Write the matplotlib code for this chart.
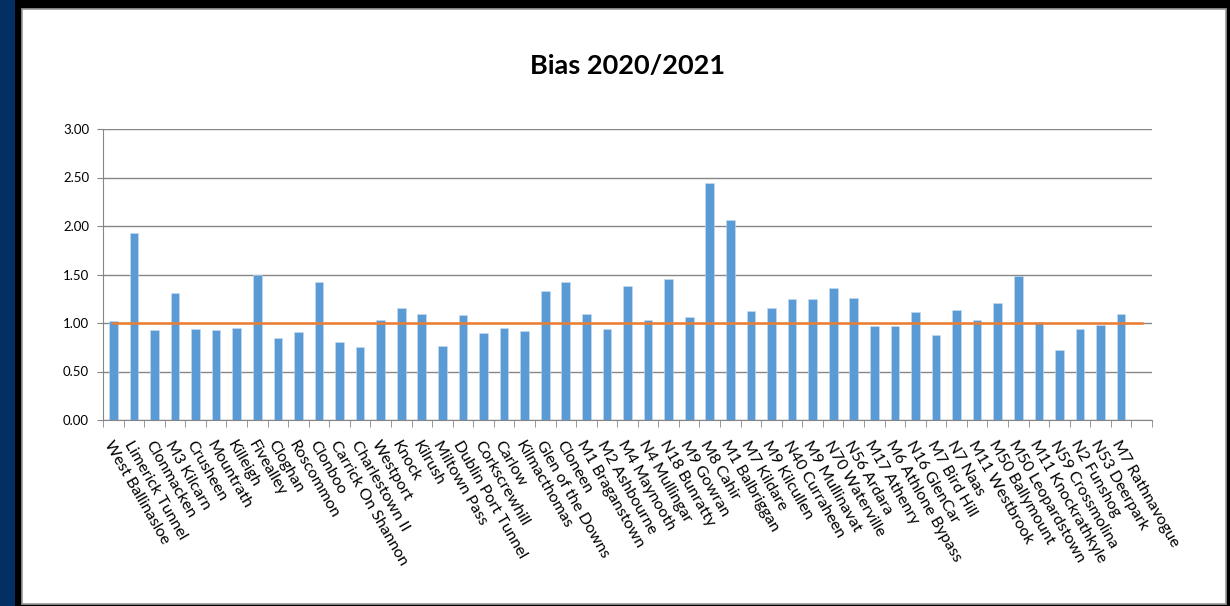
import matplotlib.pyplot as plt
import matplotlib.transforms as mtransforms
from matplotlib.patches import Rectangle

sites = ["West Ballinasloe", "Limerick Tunnel", "Clonmacken", "M3 Kilcarn", "Crusheen",
         "Mountrath", "Killeigh", "Fivealley", "Cloghan", "Roscommon", "Clonboo",
         "Carrick On Shannon", "Charlestown II", "Westport", "Knock", "Kilrush",
         "Miltown Pass", "Dublin Port Tunnel", "Corkscrewhill", "Carlow", "Kilmacthomas",
         "Glen of the Downs", "Cloneen", "M1 Braganstown", "M2 Ashbourne", "M4 Maynooth",
         "N4 Mullingar", "N18 Bunratty", "M9 Gowran", "M8 Cahir", "M1 Balbriggan",
         "M7 Kildare", "M9 Kilcullen", "N40 Curraheen", "M9 Mullinavat", "N70 Waterville",
         "N56 Ardara", "M17 Athenry", "M6 Athlone Bypass", "N16 GlenCar", "M7 Bird Hill",
         "N7 Naas", "M11 Westbrook", "M50 Ballymount", "M50 Leopardstown",
         "M11 Knockrathkyle", "N59 Crossmolina", "N2 Funshog", "N53 Deerpark",
         "M7 Rathnavogue", ""]

bias = [1.02, 1.93, 0.93, 1.31, 0.94, 0.93, 0.95, 1.50, 0.85, 0.91,
        1.42, 0.80, 0.75, 1.03, 1.15, 1.09, 0.76, 1.08, 0.90, 0.95,
        0.92, 1.33, 1.42, 1.09, 0.94, 1.38, 1.03, 1.45, 1.06, 2.44,
        2.06, 1.12, 1.15, 1.25, 1.25, 1.36, 1.26, 0.97, 0.97, 1.11,
        0.88, 1.13, 1.03, 1.21, 1.48, 1.01, 0.72, 0.94, 0.98, 1.09,
        None]

target = 1.00
yticks = [0.0, 0.5, 1.0, 1.5, 2.0, 2.5, 3.0]

W, H = 1230, 606
fig = plt.figure(figsize=(12.3, 6.06), dpi=100, facecolor="black")

# slide frame: blue strip on the left, white chart area with grey border
fig.add_artist(Rectangle((0, 0), 15 / W, 1, transform=fig.transFigure,
                         facecolor="#033063", edgecolor="none", zorder=-10))
fig.add_artist(Rectangle((21.5 / W, 2 / H), 1204.5 / W, 595 / H, transform=fig.transFigure,
                         facecolor="white", edgecolor="#9a9a9a", linewidth=1.2, zorder=-9))

ax = fig.add_axes([103 / W, 1 - 420 / H, 1049 / W, 291 / H])
ax.set_facecolor("none")

x = list(range(len(sites)))
heights = [v if v is not None else 0 for v in bias]
ax.bar(x, heights, width=0.42, color="#5B9BD5", edgecolor="#c9dcf0", linewidth=0.4, zorder=2)
ax.plot(x, [target] * len(sites), color="#ED7D31", linewidth=1.8, zorder=3)

ax.set_xlim(-0.5, len(sites) - 0.5)
ax.set_ylim(0, 3)
ax.set_yticks(yticks)
ax.set_yticklabels(["%.2f" % t for t in yticks], fontsize=9.5, family="Lato")
ax.yaxis.grid(True, color="#868686", linewidth=1.0, zorder=0)
ax.set_axisbelow(True)

ax.set_xticks(x)
ax.set_xticklabels(sites, rotation=-60, ha="left", va="top", rotation_mode="anchor",
                   fontsize=11.5, family="Lato")
# nudge the rotated labels a little to the right, like the original
shift = mtransforms.ScaledTranslation(5 / 100, 0, fig.dpi_scale_trans)
for lbl in ax.get_xticklabels():
    lbl.set_transform(lbl.get_transform() + shift)
ax.set_xticks([i - 0.5 for i in range(len(sites) + 1)], minor=True)
ax.tick_params(axis="x", which="major", length=0, pad=13)
ax.tick_params(axis="x", which="minor", length=5, color="#868686")
ax.tick_params(axis="y", length=4, color="#868686", pad=6)

for side in ["top", "right"]:
    ax.spines[side].set_visible(False)
ax.spines["left"].set_color("#868686")
ax.spines["bottom"].set_color("#868686")

fig.text(628 / W, 1 - 66 / H, "Bias 2020/2021", ha="center", va="center",
         fontsize=19.5, fontweight="bold", family="Lato")

fig.savefig("out.png", dpi=100, facecolor=fig.get_facecolor())
